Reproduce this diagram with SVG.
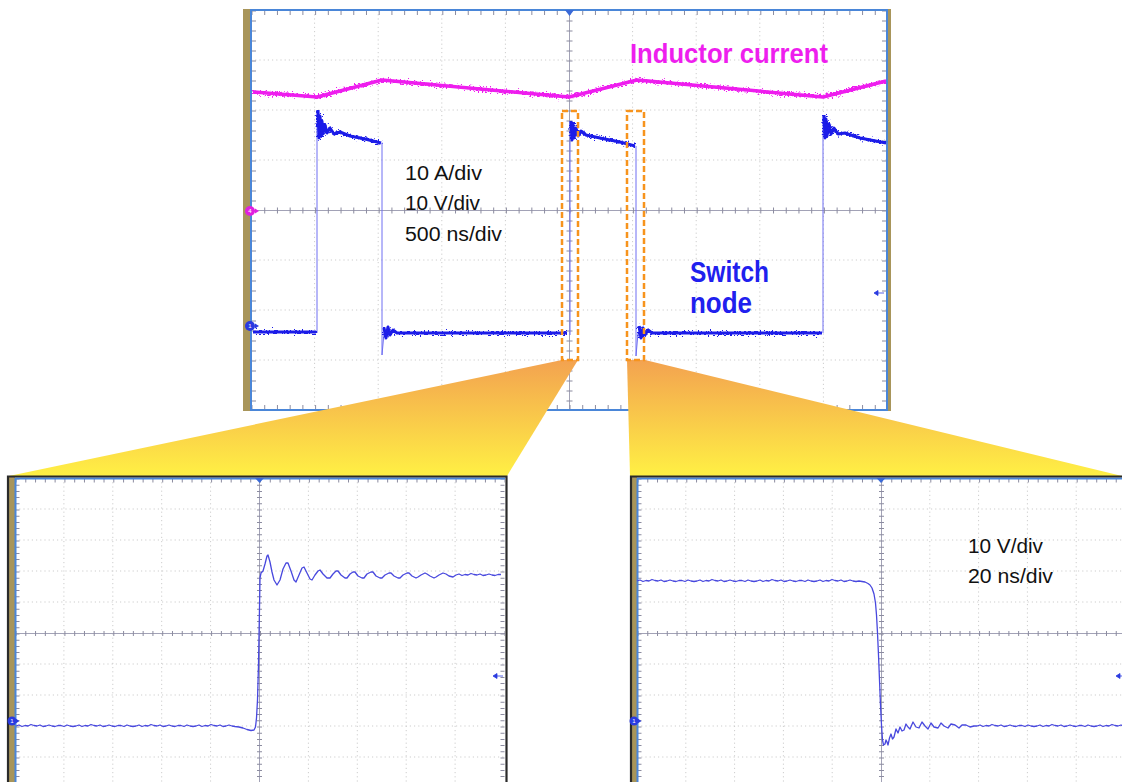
<svg xmlns="http://www.w3.org/2000/svg" width="1122" height="782" viewBox="0 0 1122 782">
<style>
.dot{stroke:#cdcdcd;stroke-width:1;stroke-dasharray:1.2 3;fill:none}
.axis{stroke:#a2a2b6;stroke-width:1;fill:none}
.tk{stroke:#8c8ca0;fill:none}
.bord{fill:none;stroke:#4a86d8;stroke-width:2}
.olive{fill:#a8955a}
.frame{fill:none;stroke:#2a2a2a;stroke-width:2.2}
.thin{stroke:#6e6ef2;stroke-width:1;fill:none}
.trace{stroke:#4848de;stroke-width:1.3;fill:none;stroke-linejoin:round}
.lbl{font-family:"Liberation Sans",Arial,sans-serif}
.box{fill:none;stroke:#f7941d;stroke-width:2.5;stroke-dasharray:6 3}
.mk{font-family:"Liberation Sans",Arial,sans-serif;font-size:6px;fill:#fff;text-anchor:middle}
.mag{fill:none;stroke:#ee1eee;stroke-linejoin:round}
.blu{fill:none;stroke:#1c1ce8;stroke-linejoin:round}
</style>
<defs>
<linearGradient id="zg" gradientUnits="userSpaceOnUse" x1="0" y1="360" x2="0" y2="476">
<stop offset="0" stop-color="#f3a250"/>
<stop offset="1" stop-color="#fff044"/>
</linearGradient>
<filter id="fz" x="240" y="0" width="660" height="420" filterUnits="userSpaceOnUse">
<feTurbulence type="fractalNoise" baseFrequency="0.5 0.9" numOctaves="2" seed="4" result="t"/>
<feDisplacementMap in="SourceGraphic" in2="t" scale="11" xChannelSelector="R" yChannelSelector="G"/>
</filter>
<path id="ind" d="M253,92L317,97L382,80L569,97L637,80L823,97L886,81"/>
<path id="sw" d="M253,332L316,332M318,110L319,138L320,116L321,136L322,121L323,134L325,125L327,133L330,128L334,134L340,132L350,136L365,139L381,143M384,328L386,338L388,327L390,335L393,330L397,333L567,333M571,121L572,140L573,124L574,138L576,128L578,136L581,131L586,135L600,138L620,142L635,146M639,326L641,338L643,328L645,335L648,330L652,333L822,333M824,115L825,138L826,119L827,136L829,124L831,134L834,128L838,134L845,133L860,138L886,143"/>
</defs>
<rect width="1122" height="782" fill="#fff"/>

<g id="main-scope">
<rect x="251" y="10" width="636" height="400" fill="#fff"/>
<rect class="olive" x="243" y="9" width="8" height="402"/>
<rect class="olive" x="887" y="9" width="4" height="402"/>
<path class="dot" d="M314.6,10V410M378.2,10V410M441.8,10V410M505.4,10V410M632.6,10V410M696.2,10V410M759.8,10V410M823.4,10V410M251,60H887M251,110H887M251,160H887M251,260H887M251,310H887M251,360H887"/>
<path class="axis" d="M569.5,10V410M251,210.5H887"/>
<path class="tk" stroke-width="5" stroke-dasharray="1 11.72" d="M251.5,12.5H887M251.5,407.5H887"/>
<path class="tk" stroke-width="5" stroke-dasharray="1 9" d="M253.5,10.5V410M884.5,10.5V410"/>
<path class="tk" stroke-width="6" stroke-dasharray="1 9" d="M569.5,10.5V410"/>
<path class="tk" stroke-width="6" stroke-dasharray="1 11.72" d="M251.5,210.5H887"/>
<rect class="bord" x="251" y="10" width="636" height="400"/>
<path d="M565,10H574L569.5,16Z" fill="#3a6ad8"/>
<path d="M874,293L878,290.5V295.5Z M878,293H884" fill="#2a3ae0" stroke="#2a3ae0" stroke-width="0.8"/>
<g id="ch4-marker"><circle cx="250" cy="211" r="5" fill="#e020e0"/><path d="M255,208.5L259,211L255,213.5Z" fill="#e020e0"/><text class="mk" x="250" y="213">4</text></g>
<g id="ch1-marker"><circle cx="250" cy="326" r="5" fill="#2a3ae0"/><path d="M255,323.5L259,326L255,328.5Z" fill="#2a3ae0"/><text class="mk" x="250" y="328">1</text></g>
<g id="inductor-trace">
<use href="#ind" class="mag" stroke-width="3.5"/>
<use href="#ind" class="mag" stroke-width="2.5" filter="url(#fz)"/>
</g>
<g id="switch-trace">
<path class="thin" d="M317,333V110M382,143V355L384,333M570,335V121M636,146V356L638,333M823,333V115"/>
<use href="#sw" class="blu" stroke-width="3"/>
<use href="#sw" class="blu" stroke-width="2" filter="url(#fz)"/>
</g>
</g>

<g id="connectors">
<path id="zoom-fan-left" d="M562,360H578L507,476H9Z" fill="url(#zg)"/>
<path id="zoom-fan-right" d="M627,360H645L1122,476H630Z" fill="url(#zg)"/>
<rect id="box-rise" class="box" x="562" y="111" width="16" height="249"/>
<rect id="box-fall" class="box" x="627" y="111" width="17" height="249"/>
</g>

<g id="zoom-left">
<rect x="15" y="478" width="490" height="310" fill="#fff"/>
<rect class="olive" x="9" y="477" width="6" height="310"/>
<path class="dot" d="M63.9,478V782M112.8,478V782M161.7,478V782M210.6,478V782M308.4,478V782M357.3,478V782M406.2,478V782M455.1,478V782M15,509H505M15,540H505M15,571H505M15,602H505M15,664H505M15,695H505M15,726H505M15,757H505"/>
<path class="axis" d="M259.5,478V782M15,633.5H505"/>
<path class="tk" stroke-width="4" stroke-dasharray="1 8.78" d="M15.5,480.5H505"/>
<path class="tk" stroke-width="4" stroke-dasharray="1 5.2" d="M17.5,478.5V782M502.5,478.5V782"/>
<path class="tk" stroke-width="5" stroke-dasharray="1 5.2" d="M259.5,478.5V782"/>
<path class="tk" stroke-width="5" stroke-dasharray="1 8.78" d="M15.5,633.5H505"/>
<path d="M15.5,787V478.5H505" class="bord"/>
<path class="frame" d="M8,787V476.5H506.5V787"/>
<path d="M255,478H264L259.5,483Z" fill="#3a6ad8"/>
<path d="M493,676L497,673.5V678.5Z M497,676H503" fill="#2a3ae0" stroke="#2a3ae0" stroke-width="0.8"/>
<g><circle cx="12" cy="721" r="4.5" fill="#2a3ae0"/><path d="M16,718.8L19.5,721L16,723.2Z" fill="#2a3ae0"/><text class="mk" x="12" y="723">1</text></g>
<path class="trace" d="M16,726l3,-1 3,1.5 3,-1 3,0.5 3,-1.5 3,1 3,0.5 3,-1 3,1.5 3,-0.5 3,-1 3,1 3,0.5 3,-1 3,0 3,1 3,-1.5 3,1 3,0.5 3,-0.5l3,-1 3,1.5 3,-1 3,0.5 3,-1.5 3,1 3,0.5 3,-1 3,1.5 3,-0.5 3,-1 3,1 3,0.5 3,-1 3,0 3,1 3,-1.5 3,1 3,0.5 3,-0.5l3,-1 3,1.5 3,-1 3,0.5 3,-1.5 3,1 3,0.5 3,-1 3,1.5 3,-0.5 3,-1 3,1 3,0.5 3,-1 3,0 3,1 3,-1.5 3,1 3,0.5 3,-0.5l3,-1 3,1.5 3,-1 3,0.5 3,-1.5 3,1 3,0.5 3,-1 3,1.5 3,-0.5 3,-1 3,1 3,0.5L239,727 243,728 247,729.5 251,730.5 254,730 255.5,727 256.5,718 257.5,700 258.5,665 259.3,620 260,578 261,573 263,571 265,564 267,556 268,555 270,562 272,572 274,580 277,585 280,580 283,569 286,563 288,563 291,571 294,580 296,582 299,575 302,568 304,567 307,573 310,579 312,580 315,575 318,571 320,570 323,574 327,578 330,578 333,574 336,571 338,571 341,575 345,578 347,578 350,574 353,572 355,572 358,576 362,578 364,578 367,574 371,572 373,572 376,576 380,578 382,578 385,575 389,573 391,573 394,576 398,578 400,578 403,575 407,573 409,573 412,576 416,578 418,577 421,575 425,573 427,574 430,576 434,578 436,577 439,575 443,573 446,574 449,576 453,577 456,575l3,-1 3,1.5 3,-1 3,0.5 3,-1.5 3,1 3,0.5 3,-1 3,1.5 3,-0.5 3,-1 3,1 3,0.5 3,-1 3,0"/>
</g>

<g id="zoom-right">
<rect x="637" y="478" width="490" height="310" fill="#fff"/>
<rect class="olive" x="632" y="477" width="5" height="310"/>
<path class="dot" d="M685.8,478V782M734.6,478V782M783.4,478V782M832.2,478V782M929.8,478V782M978.6,478V782M1027.4,478V782M1076.2,478V782M637,509H1122M637,540H1122M637,571H1122M637,602H1122M637,664H1122M637,695H1122M637,726H1122M637,757H1122"/>
<path class="axis" d="M881.5,478V782M637,633.5H1122"/>
<path class="tk" stroke-width="4" stroke-dasharray="1 8.76" d="M637.5,480.5H1122"/>
<path class="tk" stroke-width="4" stroke-dasharray="1 5.2" d="M639.5,478.5V782"/>
<path class="tk" stroke-width="5" stroke-dasharray="1 5.2" d="M881.5,478.5V782"/>
<path class="tk" stroke-width="5" stroke-dasharray="1 8.76" d="M637.5,633.5H1122"/>
<path d="M637.5,787V478.5H1125" class="bord"/>
<path class="frame" d="M631,787V476.5H1125"/>
<path d="M876.5,478H885.5L881,483Z" fill="#3a6ad8"/>
<path d="M1116,676L1120,673.5V678.5Z M1120,676H1123" fill="#2a3ae0" stroke="#2a3ae0" stroke-width="0.8"/>
<g><circle cx="634" cy="721" r="4.5" fill="#2a3ae0"/><path d="M638,718.8L641.5,721L638,723.2Z" fill="#2a3ae0"/><text class="mk" x="634" y="723">1</text></g>
<path class="trace" d="M637,581l3,-1 3,1.5 3,-1 3,0.5 3,-1.5 3,1 3,0.5 3,-1 3,1.5 3,-0.5 3,-1 3,1 3,0.5 3,-1 3,0 3,1 3,-1.5 3,1 3,0.5 3,-0.5l3,-1 3,1.5 3,-1 3,0.5 3,-1.5 3,1 3,0.5 3,-1 3,1.5 3,-0.5 3,-1 3,1 3,0.5 3,-1 3,0 3,1 3,-1.5 3,1 3,0.5 3,-0.5l3,-1 3,1.5 3,-1 3,0.5 3,-1.5 3,1 3,0.5 3,-1 3,1.5 3,-0.5 3,-1 3,1 3,0.5 3,-1 3,0 3,1 3,-1.5 3,1 3,0.5 3,-0.5l3,-1 3,1.5 3,-1 3,0.5 3,-1.5 3,1 3,0.5 3,-1 3,1.5 3,-0.5 3,-1 3,1 3,0.5L859,581 862,581.5 865,582 868,583.5 870,585 872,588 874,594 875.5,603 876.5,615 877.5,633 878.5,655 879.5,680 880.5,705 881.5,725 882.5,740 883.5,745 885,744 886,740 887,742 888,745 889.5,738 891,734 892.5,739 894,737 896,729 898,733 900,727 902,731 904,730 906,724 908,727 910,729 913,722 916,727 919,728 922,722 925,726 928,729 931,723 934,727 938,728 941,723 944,726 948,728 951,724 955,725 959,728 962,725 966,725 970,727 974,726 977,726l3,-1 3,1.5 3,-1 3,0.5 3,-1.5 3,1 3,0.5 3,-1 3,1.5 3,-0.5 3,-1 3,1 3,0.5 3,-1 3,0 3,1 3,-1.5 3,1 3,0.5 3,-0.5l3,-1 3,1.5 3,-1 3,0.5 3,-1.5 3,1 3,0.5 3,-1 3,1.5 3,-0.5 3,-1 3,1 3,0.5 3,-1 3,0 3,1 3,-1.5 3,1 3,0.5 3,-0.5l3,-1 3,1.5 3,-1 3,0.5 3,-1.5 3,1 3,0.5 3,-1 3,1.5"/>
</g>

<g id="labels" class="lbl">
<text x="630" y="63" font-size="27" font-weight="bold" fill="#ee1eee" textLength="198" lengthAdjust="spacingAndGlyphs">Inductor current</text>
<text x="690" y="282" font-size="29" font-weight="bold" fill="#2020ee" textLength="79" lengthAdjust="spacingAndGlyphs">Switch</text>
<text x="690" y="313" font-size="29" font-weight="bold" fill="#2020ee" textLength="62" lengthAdjust="spacingAndGlyphs">node</text>
<text x="405" y="180" font-size="20" fill="#111" textLength="77" lengthAdjust="spacingAndGlyphs">10 A/div</text>
<text x="405" y="210" font-size="20" fill="#111" textLength="75" lengthAdjust="spacingAndGlyphs">10 V/div</text>
<text x="405" y="241" font-size="20" fill="#111" textLength="97" lengthAdjust="spacingAndGlyphs">500 ns/div</text>
<text x="968" y="553" font-size="20" fill="#111" textLength="75" lengthAdjust="spacingAndGlyphs">10 V/div</text>
<text x="968" y="583" font-size="20" fill="#111" textLength="85" lengthAdjust="spacingAndGlyphs">20 ns/div</text>
</g>
</svg>
